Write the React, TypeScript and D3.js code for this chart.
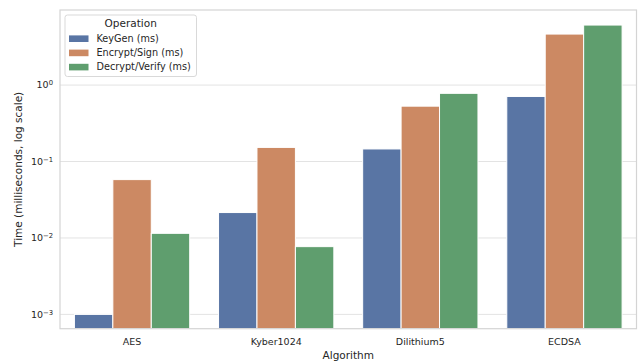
import { useEffect, useRef } from "react";
import * as d3 from "d3";

const algorithms = ["AES", "Kyber1024", "Dilithium5", "ECDSA"];
const operations = ["KeyGen (ms)", "Encrypt/Sign (ms)", "Decrypt/Verify (ms)"];
const keyGen = [0.001, 0.0215, 0.146, 0.71];
const encryptSign = [0.058, 0.153, 0.53, 4.65];
const decryptVerify = [0.0115, 0.0077, 0.78, 6.1];
const yTicks = [0.001, 0.01, 0.1, 1];
const yTickExp = ["\u22123", "\u22122", "\u22121", "0"];

const colors = ["#5975a4", "#cc8963", "#5f9e6e"];
const font = "DejaVu Sans, sans-serif";

export default function App() {
  const svgRef = useRef<SVGSVGElement>(null);

  useEffect(() => {
    if (!svgRef.current) return;
    const W = 641;
    const H = 362;
    const margin = { top: 10, right: 4.5, bottom: 33.3, left: 60 };
    const width = W - margin.left - margin.right;
    const height = H - margin.top - margin.bottom;

    d3.select(svgRef.current).selectAll("*").remove();
    const root = d3.select(svgRef.current).attr("width", W).attr("height", H);
    root.append("rect").attr("width", W).attr("height", H).attr("fill", "#fff");
    const svg = root.append("g").attr("transform", `translate(${margin.left},${margin.top})`);

    const x = d3.scaleBand().domain(algorithms).range([0, width]).padding(0);
    const y = d3.scaleLog().domain([6.5e-4, 9.6]).range([height, 0]);

    // Grid lines
    svg.selectAll(".grid")
      .data(yTicks).enter().append("line")
      .attr("x1", 0).attr("x2", width)
      .attr("y1", (d) => y(d)).attr("y2", (d) => y(d))
      .attr("stroke", "#e3e3e3").attr("stroke-width", 1);

    // Bars
    const series = [keyGen, encryptSign, decryptVerify];
    const groupW = x.bandwidth() * 0.8;
    const barW = groupW / series.length;
    series.forEach((vals, si) => {
      svg.selectAll(`.bar-${si}`)
        .data(vals).enter().append("rect")
        .attr("x", (_, i) => (x(algorithms[i]) ?? 0) + x.bandwidth() * 0.1 + si * barW)
        .attr("y", (d) => y(d))
        .attr("width", barW)
        .attr("height", (d) => height - y(d))
        .attr("fill", colors[si])
        .attr("stroke", "#ffffff").attr("stroke-width", 1);
    });

    // Frame
    svg.append("rect")
      .attr("x", 0).attr("y", 0).attr("width", width).attr("height", height)
      .attr("fill", "none").attr("stroke", "#d4d4d4").attr("stroke-width", 1.2);

    // Y tick labels
    const yl = svg.selectAll(".ytick")
      .data(yTicks).enter().append("text")
      .attr("x", -7).attr("y", (d) => y(d)).attr("dy", "0.35em")
      .attr("text-anchor", "end").attr("fill", "#262626")
      .attr("font-family", font).attr("font-size", "9.5px");
    yl.append("tspan").text("10");
    yl.append("tspan").attr("dy", "-0.45em").attr("font-size", "6.8px").text((_, i) => yTickExp[i]);

    // X tick labels
    svg.selectAll(".xtick")
      .data(algorithms).enter().append("text")
      .attr("x", (d) => (x(d) ?? 0) + x.bandwidth() / 2).attr("y", height + 13)
      .attr("dy", "0.35em").attr("text-anchor", "middle").attr("fill", "#262626")
      .attr("font-family", font).attr("font-size", "9.5px")
      .text((d) => d);

    // Axis titles
    svg.append("text")
      .attr("x", width / 2).attr("y", height + 26.5).attr("dy", "0.35em")
      .attr("text-anchor", "middle").attr("fill", "#262626")
      .attr("font-family", font).attr("font-size", "10.5px")
      .text("Algorithm");
    svg.append("text")
      .attr("transform", `translate(${-42},${height / 2}) rotate(-90)`)
      .attr("dy", "0.35em").attr("text-anchor", "middle").attr("fill", "#262626")
      .attr("font-family", font).attr("font-size", "10.5px")
      .text("Time (milliseconds, log scale)");

    // Legend
    const lg = root.append("g").attr("transform", "translate(65,15)");
    lg.append("rect")
      .attr("width", 131.5).attr("height", 61.5).attr("rx", 2.5)
      .attr("fill", "#fff").attr("fill-opacity", 0.85)
      .attr("stroke", "#d9d9d9").attr("stroke-width", 1);
    lg.append("text")
      .attr("x", 65.7).attr("y", 8.5).attr("dy", "0.35em")
      .attr("text-anchor", "middle").attr("fill", "#262626")
      .attr("font-family", font).attr("font-size", "10.5px")
      .text("Operation");
    operations.forEach((op, i) => {
      const ry = 23.7 + i * 14.2;
      lg.append("rect")
        .attr("x", 4).attr("y", ry - 3.3).attr("width", 19.5).attr("height", 6.6)
        .attr("fill", colors[i]);
      lg.append("text")
        .attr("x", 31.5).attr("y", ry).attr("dy", "0.35em")
        .attr("fill", "#262626").attr("font-family", font).attr("font-size", "9.7px")
        .text(op);
    });
  }, []);

  return (
    <div style={{ position: "fixed", left: 0, top: 0 }}>
      <svg ref={svgRef} style={{ display: "block" }} />
    </div>
  );
}
